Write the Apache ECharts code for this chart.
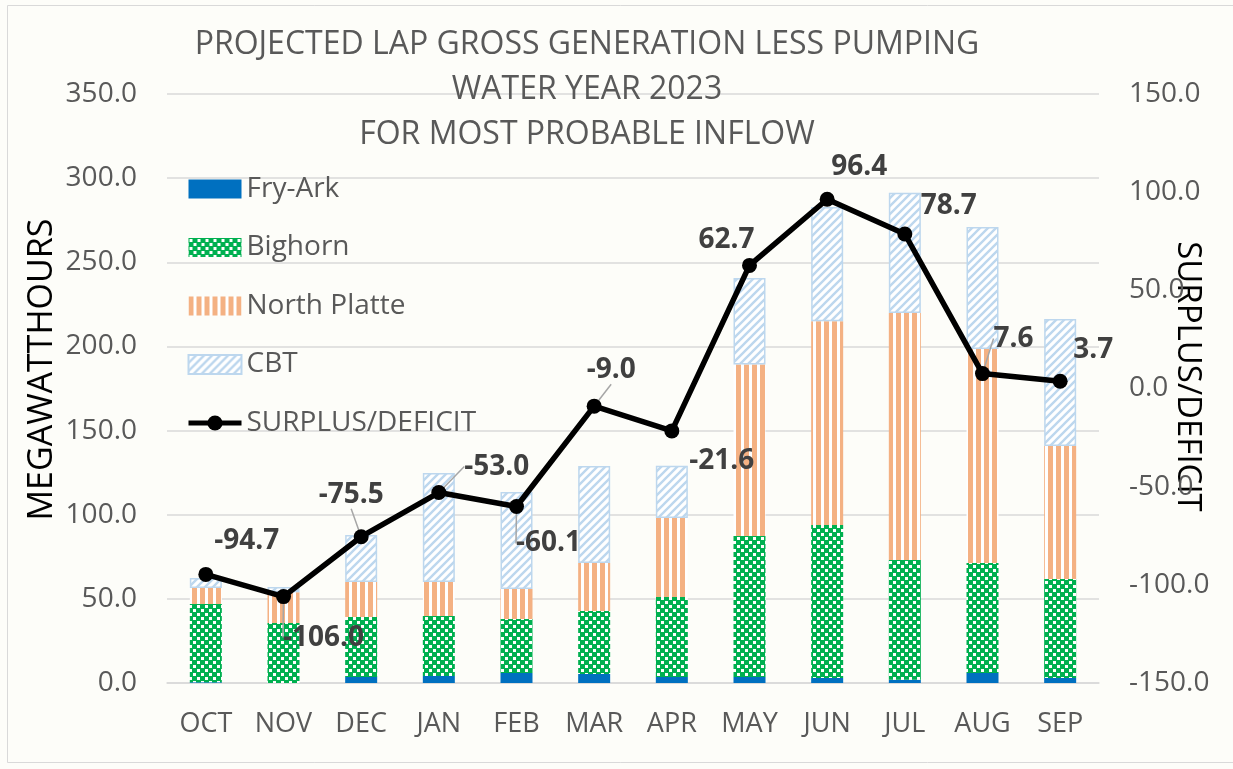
<!DOCTYPE html>
<html>
<head>
<meta charset="utf-8">
<title>Projected LAP Gross Generation Less Pumping</title>
<script src="https://cdn.jsdelivr.net/npm/echarts@6/dist/echarts.min.js"></script>
<style>
  html, body { margin: 0; padding: 0; background: #fdfdf9; }
  #chart { width: 1233px; height: 769px; }
</style>
</head>
<body>
<div id="chart"></div>
<script>
// Water year 2023 months
const months = ['OCT', 'NOV', 'DEC', 'JAN', 'FEB', 'MAR', 'APR', 'MAY', 'JUN', 'JUL', 'AUG', 'SEP'];

// Generation by project (megawatthours)
const fryArk      = [0.5, 0.0, 3.5, 4.2, 5.9, 5.3, 3.6, 3.6, 3.0, 2.0, 6.0, 3.0];
const bighorn     = [46.4, 35.6, 35.7, 35.6, 32.1, 37.5, 47.5, 83.7, 90.9, 71.1, 65.3, 58.8];
const northPlatte = [9.5, 18.4, 20.8, 20.2, 17.9, 28.5, 47.0, 102.0, 121.0, 146.7, 127.2, 79.0];
const cbt         = [6.0, 3.0, 28.0, 64.8, 57.6, 57.6, 31.0, 51.3, 68.0, 71.5, 72.5, 75.5];

// Surplus / deficit (right axis)
const surplus = [-94.7, -106.0, -75.5, -53.0, -60.1, -9.0, -21.6, 62.7, 96.4, 78.7, 7.6, 3.7];

// Label placement relative to each point, and which labels get a leader line
const labelShift = [[41, -33], [40, 41], [-10, -42], [58, -26], [32, 37], [17, -36],
                    [50, 30], [-23, -25], [32, -32], [44, -28], [31, -35], [33, -31]];
const leader = [false, true, true, true, true, true, false, false, false, false, true, false];

const FONT = '"Open Sans", "Noto Sans", sans-serif';
const GREY = '#595959';

function tile(draw) {
  const c = document.createElement('canvas');
  c.width = 8; c.height = 8;
  draw(c.getContext('2d'));
  return { image: c, repeat: 'repeat' };
}

const checker = tile(ctx => {
  ctx.fillStyle = '#00b050';
  ctx.fillRect(0, 0, 8, 8);
  ctx.fillStyle = '#ffffff';
  ctx.fillRect(1, 1, 3, 3);
  ctx.fillRect(5, 5, 3, 3);
});

const stripes = tile(ctx => {
  ctx.fillStyle = '#ffffff';
  ctx.fillRect(0, 0, 8, 8);
  ctx.fillStyle = '#f4b183';
  ctx.fillRect(0, 0, 5, 8);
});

const hatch = tile(ctx => {
  ctx.fillStyle = '#ffffff';
  ctx.fillRect(0, 0, 8, 8);
  ctx.strokeStyle = '#bdd7ee';
  ctx.lineWidth = 2.4;
  ctx.beginPath();
  ctx.moveTo(-2, 10); ctx.lineTo(10, -2);
  ctx.moveTo(-6, 6); ctx.lineTo(6, -6);
  ctx.moveTo(2, 14); ctx.lineTo(14, 2);
  ctx.stroke();
});

const fmt = v => v.toFixed(1);

const chart = echarts.init(document.getElementById('chart'), null, { renderer: 'canvas' });

const barBase = { type: 'bar', stack: 'gen', barWidth: 32, yAxisIndex: 0 };

chart.setOption({
  backgroundColor: '#fdfdf9',
  animation: false,
  title: {
    text: 'PROJECTED LAP GROSS GENERATION LESS PUMPING\nWATER YEAR 2023\nFOR MOST PROBABLE INFLOW',
    left: 587,
    top: 22,
    padding: 0,
    textAlign: 'center',
    textStyle: { fontFamily: FONT, fontSize: 32, fontWeight: 'normal', color: GREY, lineHeight: 45 }
  },
  graphic: [{
    type: 'rect',
    shape: { x: 7.5, y: 5.5, width: 1230, height: 757 },
    style: { fill: 'none', stroke: '#d9d9d9', lineWidth: 1 },
    silent: true
  }],
  legend: {
    orient: 'vertical',
    left: 186,
    top: 175,
    padding: 0,
    itemWidth: 53,
    itemHeight: 19,
    itemGap: 30.5,
    textStyle: { fontFamily: FONT, fontSize: 28, color: GREY },
    data: [
      { name: 'Fry-Ark', icon: 'rect' },
      { name: 'Bighorn', icon: 'rect' },
      { name: 'North Platte', icon: 'rect' },
      { name: 'CBT', icon: 'rect' },
      { name: 'SURPLUS/DEFICIT', lineStyle: { width: 5, color: '#000000' }, itemStyle: { color: '#000000' } }
    ]
  },
  grid: { left: 167, right: 134, top: 94, bottom: 86, outerBoundsMode: 'none', containLabel: false },
  xAxis: {
    type: 'category',
    data: months,
    axisTick: { show: false },
    axisLine: { show: true, lineStyle: { color: '#d9d9d9', width: 1.5 } },
    axisLabel: { interval: 0, fontFamily: FONT, fontSize: 27, color: GREY, margin: 28 }
  },
  yAxis: [
    {
      type: 'value',
      min: 0, max: 350, interval: 50,
      name: 'MEGAWATTHOURS',
      nameLocation: 'middle',
      nameRotate: 90,
      nameGap: 108,
      nameMoveOverlap: false,
      nameTextStyle: { fontFamily: FONT, fontSize: 34, color: '#000000', padding: [0, 0, 0, 38] },
      axisLine: { show: false },
      axisTick: { show: false },
      splitLine: { lineStyle: { color: '#d9d9d9', width: 1.5 } },
      axisLabel: { fontFamily: FONT, fontSize: 28, color: GREY, margin: 30, formatter: fmt }
    },
    {
      type: 'value',
      min: -150, max: 150, interval: 50,
      name: 'SURPLUS/DEFICIT',
      nameLocation: 'middle',
      nameRotate: -90,
      nameGap: 72,
      nameMoveOverlap: false,
      nameTextStyle: { fontFamily: FONT, fontSize: 33, color: '#000000', padding: [0, 24, 0, 0] },
      axisLine: { show: false },
      axisTick: { show: false },
      splitLine: { show: false },
      axisLabel: { fontFamily: FONT, fontSize: 28, color: GREY, margin: 30, formatter: fmt }
    }
  ],
  series: [
    Object.assign({}, barBase, {
      name: 'Fry-Ark', data: fryArk,
      itemStyle: { color: '#0070c0' }
    }),
    Object.assign({}, barBase, {
      name: 'Bighorn', data: bighorn,
      itemStyle: { color: checker }
    }),
    Object.assign({}, barBase, {
      name: 'North Platte', data: northPlatte,
      itemStyle: { color: stripes }
    }),
    Object.assign({}, barBase, {
      name: 'CBT', data: cbt,
      itemStyle: { color: hatch, borderColor: '#bdd7ee', borderWidth: 1.5 }
    }),
    {
      name: 'SURPLUS/DEFICIT',
      type: 'line',
      yAxisIndex: 1,
      z: 5,
      symbol: 'circle',
      symbolSize: 15,
      itemStyle: { color: '#000000' },
      lineStyle: { color: '#000000', width: 5.5 },
      data: surplus.map((v, i) => ({
        value: v,
        labelLine: { show: leader[i] }
      })),
      label: {
        show: true,
        position: 'inside',
        formatter: p => fmt(p.value),
        fontFamily: FONT,
        fontSize: 28,
        fontWeight: 'bold',
        color: '#404040'
      },
      labelLine: { show: false, lineStyle: { color: '#a6a6a6', width: 1.5 } },
      labelLayout: p => {
        const s = labelShift[p.dataIndex];
        return {
          x: p.rect.x + p.rect.width / 2 + s[0],
          y: p.rect.y + p.rect.height / 2 + s[1],
          align: 'center',
          verticalAlign: 'middle'
        };
      }
    }
  ]
});
</script>
</body>
</html>
